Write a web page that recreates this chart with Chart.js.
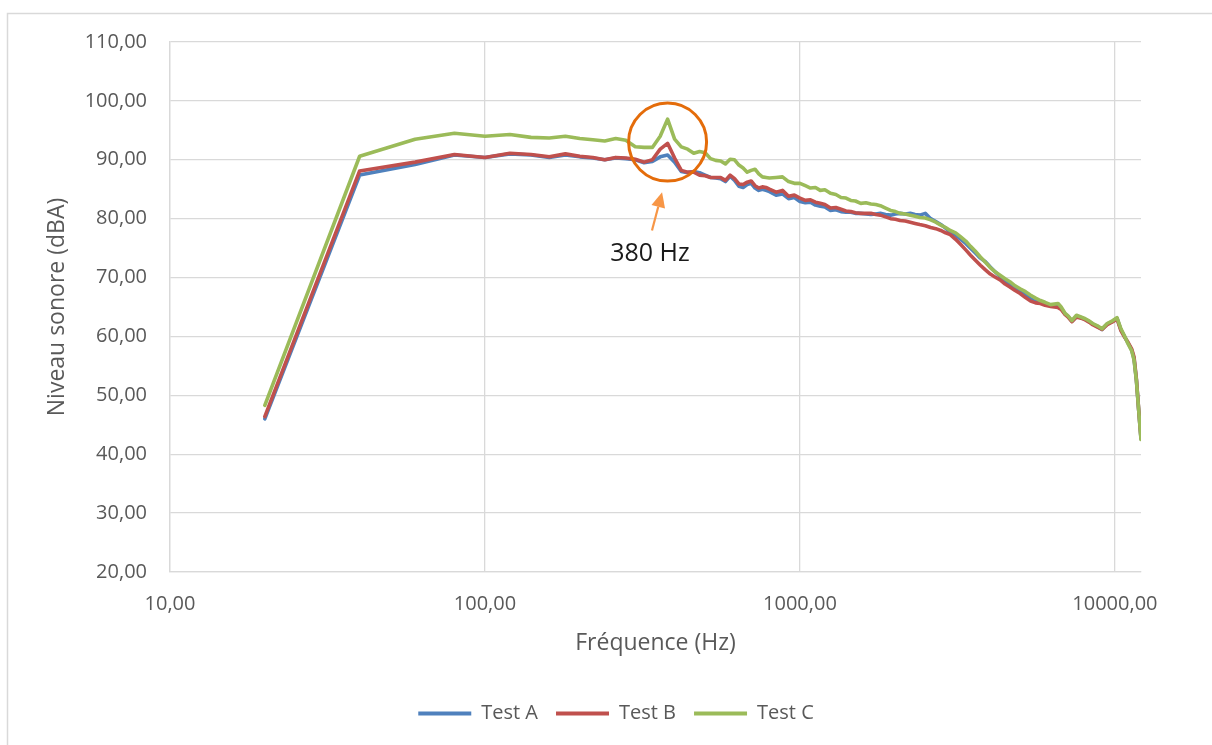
<!DOCTYPE html>
<html>
<head>
<meta charset="utf-8">
<script src="https://cdn.jsdelivr.net/npm/chart.js@4.4.1/dist/chart.umd.min.js"></script>
<style>
  html, body { margin: 0; padding: 0; background: #ffffff; }
  #wrap { width: 1212px; height: 745px; position: relative; }
</style>
</head>
<body>
<div id="wrap"><canvas id="c" width="1212" height="745"></canvas></div>
<script>
// Frequencies of the measured spectrum (Hz)
const freqHz = [
  20, 40, 60, 80, 100, 120, 140, 160, 180, 200,
  220, 240, 260, 280, 300, 320, 340, 360, 380, 400,
  420, 440, 460, 480, 500, 520, 540, 560, 580, 600,
  620, 640, 660, 680, 700, 720, 740, 760, 780, 800,
  840, 880, 920, 960, 1000, 1040, 1080, 1120, 1160, 1200,
  1250, 1300, 1350, 1400, 1450, 1500, 1560, 1620, 1680, 1740,
  1800, 1870, 1940, 2010, 2080, 2160, 2240, 2320, 2400, 2500,
  2600, 2700, 2800, 2900, 3000, 3120, 3240, 3360, 3480, 3600,
  3740, 3880, 4020, 4160, 4320, 4480, 4640, 4820, 5000, 5200,
  5400, 5600, 5800, 6000, 6250, 6600, 6750, 6950, 7100, 7300,
  7550, 7800, 8050, 8300, 8500, 8800, 9100, 9450, 9850, 10150,
  10450, 10700, 10950, 11300, 11500, 11700, 11900, 12100
];

// Sound level, dBA
const testA = [
  46.0, 87.4, 89.2, 90.8, 90.4, 91.0, 90.8, 90.4, 90.8, 90.5,
  90.3, 90.0, 90.3, 90.2, 90.0, 89.5, 89.7, 90.5, 90.8, 89.6,
  88.0, 87.8, 88.0, 87.8, 87.4, 87.0, 86.9, 86.8, 86.3, 87.2,
  86.5, 85.5, 85.3, 85.8, 86.0, 85.2, 84.8, 85.0, 84.8, 84.6,
  84.0, 84.2, 83.4, 83.6, 82.9, 82.7, 82.8, 82.3, 82.1, 82.0,
  81.4, 81.5, 81.2, 81.1, 81.1, 80.9, 80.9, 80.8, 80.7, 80.8,
  80.9, 80.7, 80.6, 80.8, 80.9, 80.8, 80.9, 80.7, 80.6, 80.9,
  80.0, 79.5, 79.0, 78.4, 77.7, 77.2, 76.5, 75.8, 75.0, 74.2,
  73.3, 72.7, 71.8, 71.0, 70.2, 69.4, 68.8, 68.2, 67.7, 67.1,
  66.4, 65.9, 65.9, 65.6, 65.3, 65.2, 64.8, 63.8, 63.4, 62.6,
  63.4, 63.2, 62.9, 62.5, 62.1, 61.7, 61.2, 62.1, 62.6, 63.1,
  61.1, 60.1, 59.1, 57.7, 56.2, 52.6, 47.4, 42.6
];
const testB = [
  46.4, 88.1, 89.6, 90.9, 90.4, 91.1, 90.9, 90.5, 91.0, 90.6,
  90.4, 90.0, 90.4, 90.3, 90.1, 89.6, 90.0, 91.8, 92.8, 90.3,
  88.2, 87.9, 87.9, 87.4, 87.3, 87.0, 87.0, 87.0, 86.5, 87.4,
  86.8, 85.9, 85.8, 86.2, 86.4, 85.6, 85.2, 85.4, 85.3, 85.0,
  84.5, 84.8, 83.8, 84.0, 83.5, 83.1, 83.2, 82.8, 82.6, 82.4,
  81.8, 81.9, 81.6, 81.3, 81.2, 81.0, 80.9, 80.9, 80.9, 80.7,
  80.6, 80.3, 80.0, 79.9, 79.7, 79.6, 79.4, 79.2, 79.0, 78.8,
  78.5, 78.3, 78.0, 77.6, 77.3, 76.5, 75.6, 74.7, 73.8, 73.0,
  72.1, 71.3, 70.6, 70.1, 69.6, 68.9, 68.4, 67.8, 67.3, 66.6,
  66.0, 65.7, 65.6, 65.3, 65.1, 64.9, 64.6, 63.7, 63.3, 62.5,
  63.3, 63.1, 62.8, 62.4, 62.0, 61.6, 61.2, 62.0, 62.5, 63.0,
  61.0, 60.0, 59.2, 57.9, 56.5, 52.8, 47.5, 42.8
];
const testC = [
  48.3, 90.6, 93.5, 94.5, 94.0, 94.3, 93.8, 93.7, 94.0, 93.6,
  93.4, 93.2, 93.6, 93.3, 92.2, 92.1, 92.1, 94.0, 96.9, 93.5,
  92.2, 91.8, 91.1, 91.4, 91.2, 90.2, 89.9, 89.8, 89.3, 90.1,
  90.0, 89.1, 88.6, 87.9, 88.2, 88.4, 87.6, 87.1, 87.0, 86.9,
  87.0, 87.1, 86.3, 86.0, 86.0, 85.6, 85.2, 85.3, 84.8, 84.9,
  84.3, 84.1, 83.6, 83.5, 83.1, 83.0, 82.6, 82.7, 82.5, 82.4,
  82.2, 81.8, 81.4, 81.2, 80.9, 80.8, 80.6, 80.4, 80.2, 80.1,
  79.8, 79.4, 78.9, 78.5, 78.0, 77.6, 76.9, 76.2, 75.3, 74.5,
  73.5, 72.6, 71.7, 71.0, 70.4, 69.8, 69.3, 68.6, 68.1, 67.6,
  67.0, 66.5, 66.1, 65.8, 65.4, 65.6, 65.0, 63.9, 63.5, 62.7,
  63.6, 63.3, 63.0, 62.6, 62.2, 61.8, 61.3, 62.2, 62.7, 63.2,
  61.3, 60.2, 59.0, 57.6, 56.0, 52.5, 47.4, 42.5
];

const seriesNames = ['Test A', 'Test B', 'Test C'];
const seriesColors = ['#4F81BD', '#C0504D', '#9BBB59'];

// Axis ticks
const xTickValues = [10, 100, 1000, 10000];
const yMin = 20, yMax = 110, yStep = 10;

// Highlighted resonance
const peakLabel = '380 Hz';
const peakFreq = 380, peakLevel = 93.0;
const arrowFrom = [339, 78.0], arrowTo = [365, 84.5];
const labelAt = [334, 74.1];

const fmt = v => Number(v).toFixed(2).replace('.', ',');
const toPoints = ys => freqHz.map((f, i) => ({ x: f, y: ys[i] }));

const TEXT = '#595959';
const GRID = '#d9d9d9';
const FONT = "'Open Sans', 'Liberation Sans', sans-serif";

const framePlugin = {
  id: 'frame',
  beforeDraw(chart) {
    const { ctx, width, height } = chart;
    ctx.save();
    ctx.fillStyle = '#ffffff';
    ctx.fillRect(0, 0, width, height);
    ctx.strokeStyle = GRID;
    ctx.lineWidth = 1.5;
    ctx.beginPath();
    ctx.moveTo(7.5, height + 2);
    ctx.lineTo(7.5, 13.5);
    ctx.lineTo(width + 2, 13.5);
    ctx.stroke();
    ctx.restore();
  }
};

const calloutPlugin = {
  id: 'callout',
  afterDatasetsDraw(chart) {
    const { ctx } = chart;
    const xs = chart.scales.x, ys = chart.scales.y;
    ctx.save();
    // circle around the peak
    ctx.strokeStyle = '#E46C0A';
    ctx.lineWidth = 3;
    ctx.beginPath();
    ctx.arc(xs.getPixelForValue(peakFreq), ys.getPixelForValue(peakLevel), 39, 0, Math.PI * 2);
    ctx.stroke();
    // arrow pointing at the circle
    const x0 = xs.getPixelForValue(arrowFrom[0]), y0 = ys.getPixelForValue(arrowFrom[1]);
    const x1 = xs.getPixelForValue(arrowTo[0]), y1 = ys.getPixelForValue(arrowTo[1]);
    const ang = Math.atan2(y1 - y0, x1 - x0);
    const headLen = 15, headHalf = 7;
    const bx = x1 - headLen * Math.cos(ang), by = y1 - headLen * Math.sin(ang);
    ctx.strokeStyle = '#F79646';
    ctx.fillStyle = '#F79646';
    ctx.lineWidth = 2.2;
    ctx.beginPath();
    ctx.moveTo(x0, y0);
    ctx.lineTo(bx, by);
    ctx.stroke();
    ctx.beginPath();
    ctx.moveTo(x1, y1);
    ctx.lineTo(bx + headHalf * Math.sin(ang), by - headHalf * Math.cos(ang));
    ctx.lineTo(bx - headHalf * Math.sin(ang), by + headHalf * Math.cos(ang));
    ctx.closePath();
    ctx.fill();
    // label
    ctx.fillStyle = '#1a1a1a';
    ctx.font = "25px " + FONT;
    ctx.textAlign = 'center';
    ctx.textBaseline = 'middle';
    ctx.fillText(peakLabel, xs.getPixelForValue(labelAt[0]), ys.getPixelForValue(labelAt[1]));
    ctx.restore();
  }
};

const seriesValues = [testA, testB, testC];
const datasets = seriesNames.map((name, i) => ({
  label: name,
  data: toPoints(seriesValues[i]),
  borderColor: seriesColors[i],
  backgroundColor: seriesColors[i],
  borderWidth: 3.6,
  pointRadius: 0,
  pointHoverRadius: 0,
  tension: 0,
  borderJoinStyle: 'round',
  borderCapStyle: 'round',
  order: seriesNames.length - i
}));

new Chart(document.getElementById('c'), {
  type: 'line',
  data: { datasets },
  plugins: [framePlugin, calloutPlugin],
  options: {
    responsive: false,
    animation: false,
    devicePixelRatio: 1,
    layout: { padding: { left: 20, right: 0, top: 42, bottom: 11.5 } },
    plugins: {
      tooltip: { enabled: false },
      legend: {
        position: 'bottom',
        labels: {
          boxWidth: 53,
          boxHeight: 4,
          padding: 18,
          color: TEXT,
          font: { family: FONT, size: 20 },
          sort: (a, b) => a.datasetIndex - b.datasetIndex,
          generateLabels: chart =>
            Chart.defaults.plugins.legend.labels.generateLabels(chart)
              .map(l => Object.assign(l, { lineWidth: 0 }))
        }
      }
    },
    scales: {
      x: {
        type: 'logarithmic',
        min: 10,
        max: 12100,
        afterBuildTicks: s => { s.ticks = xTickValues.map(v => ({ value: v })); },
        afterFit: s => { s.height = 113.5; s.paddingRight = 71; },
        grid: { color: GRID, lineWidth: 1.3, drawTicks: false },
        border: { color: GRID, width: 1.3 },
        ticks: {
          color: TEXT,
          font: { family: FONT, size: 20 },
          padding: 20,
          maxRotation: 0,
          autoSkip: false,
          callback: v => fmt(v)
        },
        title: {
          display: true,
          text: 'Fréquence (Hz)',
          color: TEXT,
          font: { family: FONT, size: 23 },
          padding: { top: 0, bottom: 28.7 }
        }
      },
      y: {
        min: yMin,
        max: yMax,
        afterFit: s => { s.width = 150; },
        grid: { color: GRID, lineWidth: 1.3, drawTicks: false },
        border: { color: GRID, width: 1.3 },
        ticks: {
          stepSize: yStep,
          color: TEXT,
          font: { family: FONT, size: 20 },
          padding: 23,
          callback: v => fmt(v)
        },
        title: {
          display: true,
          text: 'Niveau sonore (dBA)',
          color: TEXT,
          font: { family: FONT, size: 23 },
          padding: { top: 23.2, bottom: 0 }
        }
      }
    }
  }
});
</script>
</body>
</html>
